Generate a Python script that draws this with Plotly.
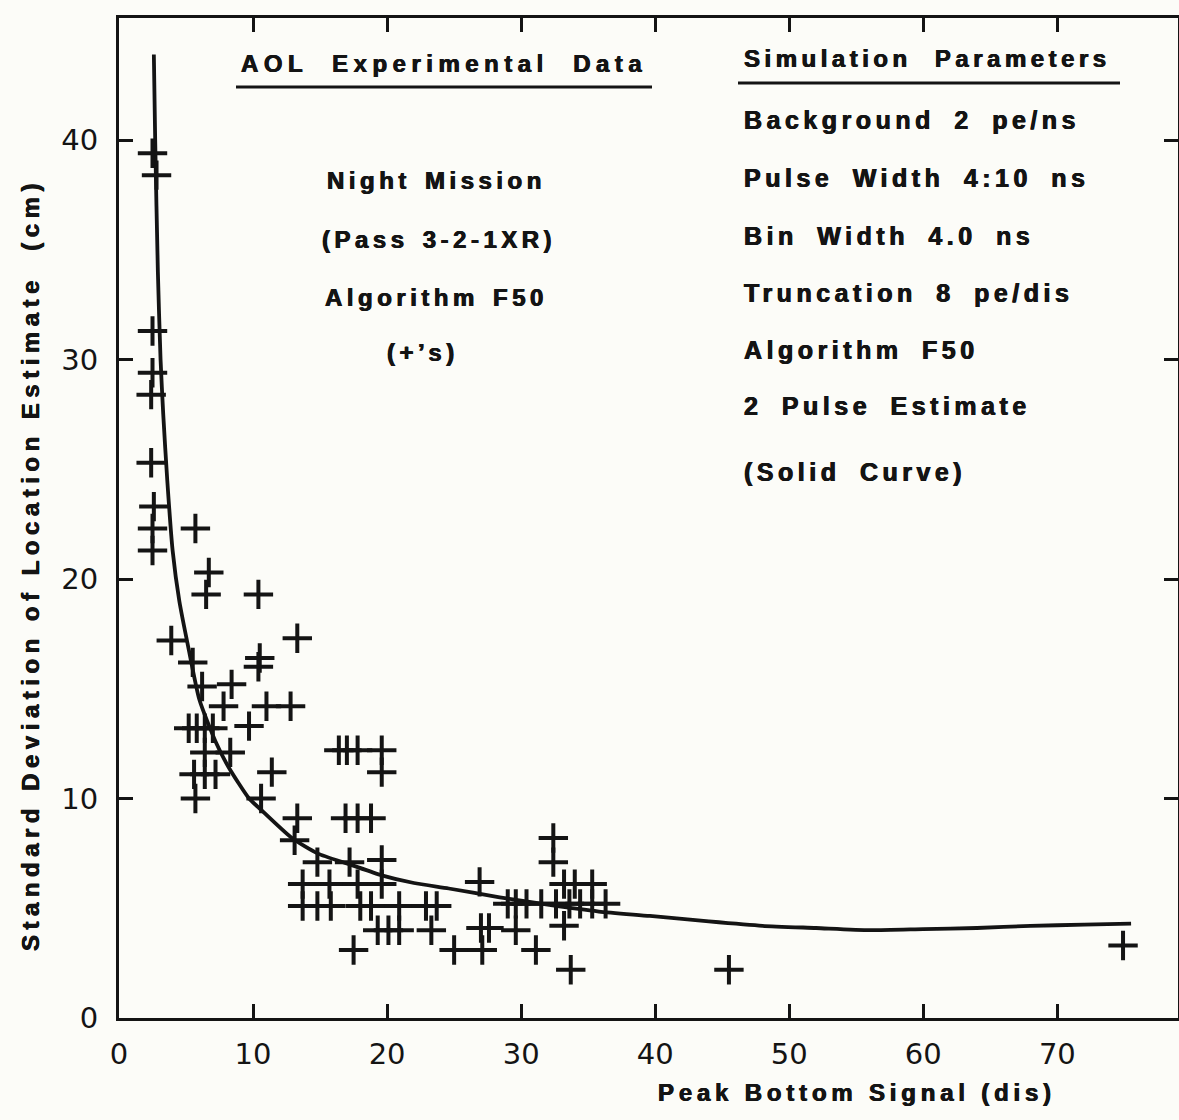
import plotly.graph_objects as go

# ---------------- data ----------------
pts_x = [2.5, 2.8, 2.5, 2.5, 2.4, 2.4, 2.6, 2.5, 2.5,
         5.7, 6.7, 6.5, 10.4, 3.9, 13.3, 5.5, 10.4, 10.5, 6.2, 8.4, 7.8, 11.0, 12.8,
         5.2, 5.8, 6.4, 7.0, 9.7,
         6.4, 8.3,
         5.6, 6.4, 7.2, 11.4,
         5.7, 10.6,
         16.4, 17.0, 17.8, 19.6, 19.6,
         16.9, 17.8, 18.8, 13.3, 13.1,
         14.8, 17.2, 19.6,
         13.7, 15.7, 17.8, 19.6,
         13.7, 14.8, 15.8, 18.0, 18.8, 20.9, 22.9, 23.7,
         26.9,
         29.0, 29.6, 30.4, 31.5, 32.6, 33.6, 34.4, 35.3, 36.3,
         33.2, 34.0, 35.3,
         32.4, 32.4,
         19.3, 20.1, 20.9, 23.3, 27.0, 27.6, 29.6, 33.2,
         17.5, 25.0, 27.1, 31.1, 33.7,
         45.5, 74.9]
pts_y = [39.4, 38.4, 31.3, 29.4, 28.4, 25.3, 23.3, 22.3, 21.3,
         22.3, 20.3, 19.3, 19.3, 17.2, 17.3, 16.2, 16.0, 16.4, 15.1, 15.2, 14.2, 14.2, 14.2,
         13.2, 13.2, 13.2, 13.2, 13.3,
         12.1, 12.1,
         11.1, 11.1, 11.1, 11.2,
         10.0, 10.0,
         12.2, 12.2, 12.2, 12.2, 11.2,
         9.1, 9.1, 9.1, 9.1, 8.1,
         7.1, 7.1, 7.2,
         6.1, 6.1, 6.1, 6.1,
         5.1, 5.1, 5.1, 5.1, 5.1, 5.1, 5.1, 5.1,
         6.2,
         5.2, 5.2, 5.2, 5.2, 5.2, 5.2, 5.2, 5.2, 5.2,
         6.1, 6.1, 6.1,
         8.2, 7.1,
         4.0, 4.0, 4.0, 4.0, 4.1, 4.1, 4.0, 4.2,
         3.1, 3.1, 3.1, 3.1, 2.2,
         2.2, 3.3]

curve_x = [2.6, 2.7, 2.9, 3.1, 3.3, 3.6, 4.0, 4.5, 5.2, 6.0, 7.2, 8.2, 9.7,
           10.4, 12.9, 14.8, 17.2, 19.6, 22.0, 24.6, 28.4, 32.1, 35.8, 39.6,
           44.0, 48.0, 52.0, 56.0, 60.0, 64.0, 68.0, 72.0, 75.5]
curve_y = [43.9, 40.0, 34.0, 30.0, 27.5, 24.5, 21.3, 19.0, 16.8, 14.5, 12.6, 11.4, 10.0,
           9.6, 8.2, 7.5, 7.0, 6.5, 6.15, 5.9, 5.5, 5.15, 4.85, 4.65,
           4.4, 4.2, 4.1, 4.0, 4.05, 4.1, 4.2, 4.25, 4.3]

x_ticks = [0, 10, 20, 30, 40, 50, 60, 70]
x_tick_labels = ["0", "10", "20", "30", "40", "50", "60", "70"]
y_ticks = [0, 10, 20, 30, 40]
y_tick_labels = ["0", "10", "20", "30", "40"]

left_block = ["Night Mission", "(Pass 3-2-1XR)", "Algorithm F50", "(+\u2019s)"]
right_block = ["Background 2 pe/ns", "Pulse Width 4:10 ns", "Bin Width 4.0 ns",
               "Truncation 8 pe/dis", "Algorithm F50", "2 Pulse Estimate", "(Solid Curve)"]
title_left = "AOL  Experimental  Data"
title_right = "Simulation Parameters"
x_title = "Peak Bottom Signal (dis)"
y_title = "Standard Deviation of Location Estimate  (cm)"

# ---------------- styling ----------------
INK = "#141414"
PAPER = "#fcfcf8"
W, H = 1179, 1120
L, R, T, B = 119, 1, 18, 102
PW, PH = W - L - R, H - T - B

def px_x(px):
    return (px - L) / PW

def px_y(py):
    return (H - B - py) / PH

def tracked(s, ls, ws=0):
    return f'<span style="letter-spacing:{ls}px;word-spacing:{ws}px">{s}</span>'

SHADOW = "0.5px 0px 0px #141414, -0.4px 0px 0px #141414"
TXT = dict(family="Liberation Sans, Arial, sans-serif", size=24, color=INK,
           weight="bold", shadow=SHADOW)
TXT_R = dict(TXT, size=25)
NUM = dict(family="DejaVu Sans, sans-serif", size=29, color=INK)

fig = go.Figure()
fig.add_trace(go.Scatter(x=curve_x, y=curve_y, mode="lines",
                         line=dict(color=INK, width=3.8, shape="spline", smoothing=0.6),
                         hoverinfo="skip", showlegend=False))
fig.add_trace(go.Scatter(x=pts_x, y=pts_y, mode="markers",
                         marker=dict(symbol="cross-thin", size=21, color=INK,
                                     line=dict(width=4, color=INK)),
                         showlegend=False))

annotations = []
annotations.append(dict(text=tracked(title_left, 5.5), x=px_x(444), y=px_y(63),
                        xanchor="center", yanchor="middle", font=TXT))
annotations.append(dict(text=tracked(title_right, 4.5, 12), x=px_x(742), y=px_y(58),
                        xanchor="left", yanchor="middle", font=TXT))
left_y = [180, 240, 297, 353]
left_x = [436, 439, 436, 423]
for s, xx, yy in zip(left_block, left_x, left_y):
    annotations.append(dict(text=tracked(s, 4.5, 3), x=px_x(xx), y=px_y(yy),
                            xanchor="center", yanchor="middle", font=TXT))
right_y = [120, 178, 236, 293, 350, 406, 472]
for s, yy in zip(right_block, right_y):
    annotations.append(dict(text=tracked(s, 4.5, 8), x=px_x(742), y=px_y(yy),
                            xanchor="left", yanchor="middle", font=TXT_R))
annotations.append(dict(text=tracked(x_title, 4.8), x=px_x(857), y=px_y(1092),
                        xanchor="center", yanchor="middle", font=TXT))
annotations.append(dict(text=tracked(y_title, 5.5), x=px_x(31), y=px_y(565),
                        xanchor="center", yanchor="middle", textangle=-90, font=TXT))
for a in annotations:
    a.update(xref="paper", yref="paper", showarrow=False)

shapes = [
    dict(type="line", xref="paper", yref="paper", x0=px_x(236), x1=px_x(652),
         y0=px_y(87), y1=px_y(87), line=dict(color=INK, width=3)),
    dict(type="line", xref="paper", yref="paper", x0=px_x(738), x1=px_x(1120),
         y0=px_y(83), y1=px_y(83), line=dict(color=INK, width=3)),
]

axis_common = dict(showline=True, linewidth=3, linecolor=INK, mirror="allticks",
                   ticks="inside", ticklen=14, tickwidth=3, tickcolor=INK,
                   showgrid=False, zeroline=False, tickfont=NUM)

fig.update_layout(
    width=W, height=H,
    margin=dict(l=L, r=R, t=T, b=B, autoexpand=False),
    paper_bgcolor=PAPER, plot_bgcolor=PAPER,
    showlegend=False,
    xaxis=dict(range=[0, 79.0], tickvals=x_ticks, ticktext=x_tick_labels,
               ticklabelstandoff=8, **axis_common),
    yaxis=dict(range=[0, 45.56], tickvals=y_ticks, ticktext=y_tick_labels,
               ticklabelstandoff=12, **axis_common),
    annotations=annotations,
    shapes=shapes,
)

fig.write_html("out.html")
